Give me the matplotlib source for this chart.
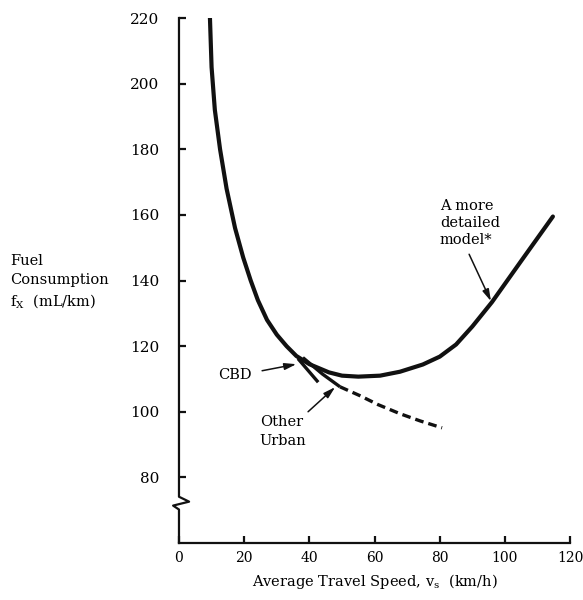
import numpy as np
import matplotlib
matplotlib.use('Agg')
import matplotlib.pyplot as plt

plt.rcParams['font.family'] = 'DejaVu Serif'
plt.rcParams['mathtext.fontset'] = 'dejavuserif'

# Values
main_speed = [9.5, 10, 11, 12.6, 14.6, 17.2, 19.7, 22, 24.2, 27, 30, 33, 36, 40, 46, 50,
              55, 61.7, 67.8, 74.8, 80, 85, 90, 96, 105, 114.7]
main_fuel = [220, 205, 192, 180, 168, 156, 147, 140, 134, 128, 123.5, 120, 117, 114.5,
             112, 111, 110.7, 111, 112.2, 114.4, 116.8, 120.5, 126, 133.4, 146, 159.5]

cbd_speed = [36.5, 42.7]
cbd_fuel = [116.2, 109]

urban_speed = [38, 44, 49.4]
urban_fuel = [116.5, 111.5, 107.6]
urban_dash_speed = [49.4, 55.5, 61, 67.8, 74, 80.7]
urban_dash_fuel = [107.6, 104.9, 102.2, 99.4, 97.2, 95.1]

x_ticks = [0, 20, 40, 60, 80, 100, 120]
y_ticks = [80, 100, 120, 140, 160, 180, 200, 220]

fig = plt.figure(figsize=(5.83, 6), dpi=100)
ax = fig.add_axes([0.307, 0.095, 0.671, 0.875])

ax.plot(main_speed, main_fuel, color='#111111', lw=3.0, solid_capstyle='round',
        solid_joinstyle='round')
ax.plot(cbd_speed, cbd_fuel, color='#111111', lw=2.4, solid_capstyle='butt')
ax.plot(urban_speed, urban_fuel, color='#111111', lw=2.4, solid_capstyle='butt')
ax.plot(urban_dash_speed, urban_dash_fuel, color='#111111', lw=2.4, dashes=(2.6, 1.5))

ax.set_xlim(0, 120)
ax.set_ylim(60, 220)
ax.set_xticks(x_ticks)
ax.set_yticks(y_ticks)
ax.tick_params(direction='in', length=5, width=1.6, color='#111111')
ax.tick_params(axis='y', pad=14, labelsize=11)
ax.tick_params(axis='x', pad=6, labelsize=10)

for s in ['top', 'right', 'left']:
    ax.spines[s].set_visible(False)
ax.spines['bottom'].set_linewidth(1.6)
ax.spines['bottom'].set_color('#111111')

# left axis with a break squiggle
ax.plot([0, 0, 3.1, -1.8, 0, 0], [220, 74.1, 72.6, 71.4, 70.2, 60],
        color='#111111', lw=1.6, clip_on=False)

ax.set_xlabel(r'Average Travel Speed, $\mathrm{v_s}$  (km/h)', fontsize=10.5, labelpad=5)
fig.text(0.017, 0.53, 'Fuel\nConsumption\n' + r'f$_\mathrm{X}$  (mL/km)',
         fontsize=10.5, ha='left', va='center', linespacing=1.4)

arrow = dict(arrowstyle='-|>,head_length=0.7,head_width=0.2', color='#111111', lw=1.1,
             shrinkA=0, shrinkB=0)

ax.text(22.4, 111.3, 'CBD', fontsize=10.5, ha='right', va='center')
ax.annotate('', xy=(36, 114.5), xytext=(25.5, 112.5), arrowprops=arrow)

ax.text(24.8, 94, 'Other\nUrban', fontsize=10.5, ha='left', va='center', linespacing=1.45)
ax.annotate('', xy=(47.9, 107.5), xytext=(39.6, 100), arrowprops=arrow)

ax.text(80, 157.5, 'A more\ndetailed\nmodel*', fontsize=10.5, ha='left', va='center',
        linespacing=1.3)
ax.annotate('', xy=(95.7, 133.7), xytext=(89, 148), arrowprops=arrow)

plt.savefig('out.png', dpi=100)
